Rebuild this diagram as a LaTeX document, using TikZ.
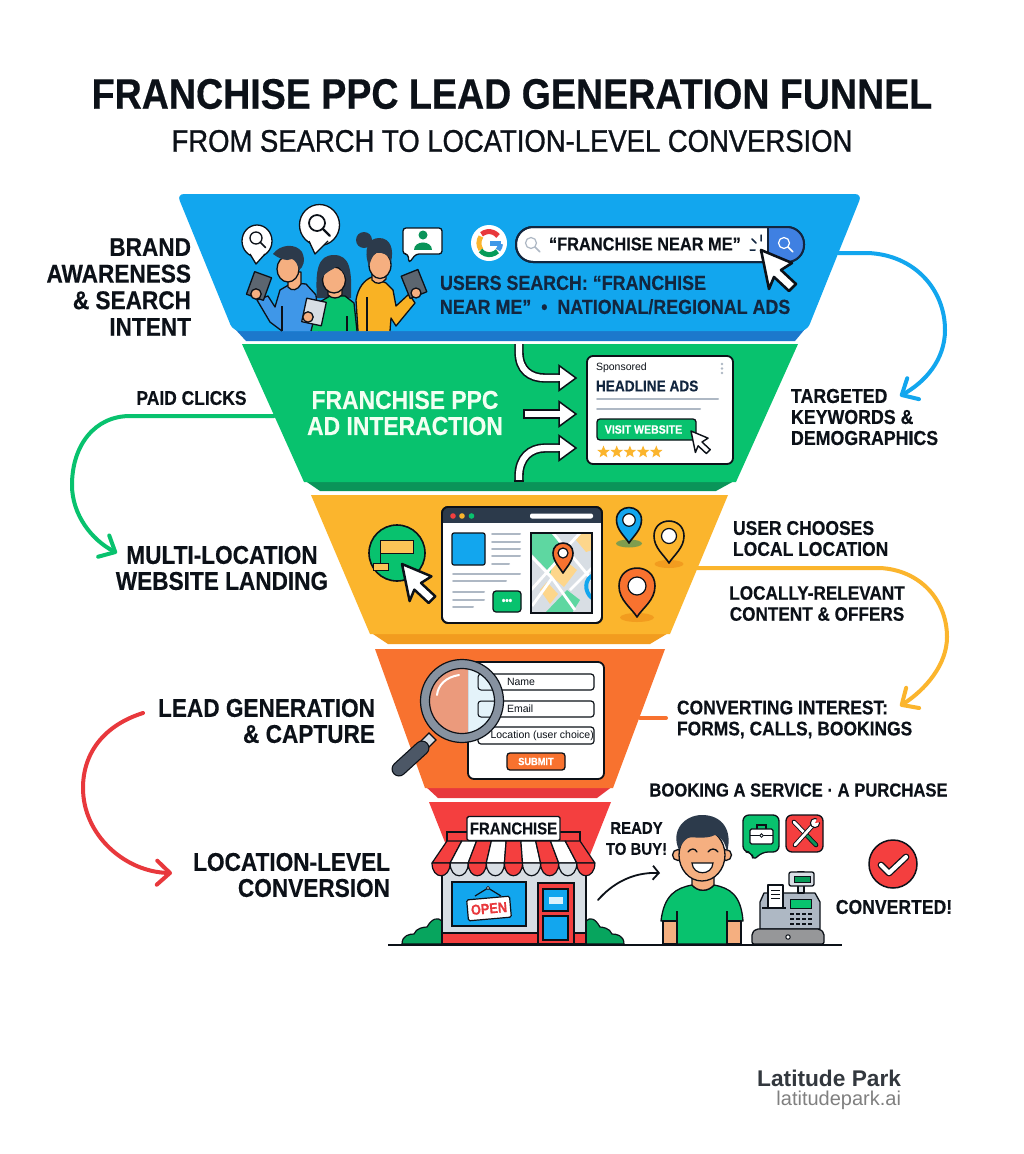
\documentclass[tikz,border=0pt]{standalone}
\usepackage{fontspec}
\setmainfont{Liberation Sans}[FakeStretch=0.88,BoldFeatures={FakeStretch=0.88,FakeBold=0.35}]
\newfontfamily\medfont{Liberation Sans}[FakeStretch=0.88,FakeBold=1.0]
\newfontfamily\footfont{Liberation Sans}
\usetikzlibrary{shapes.geometric,arrows.meta}
\definecolor{ink}{HTML}{0C1118}
\definecolor{navy}{HTML}{12263F}
\definecolor{bluep}{HTML}{12A6EE}
\definecolor{blued}{HTML}{1C78CC}
\definecolor{btnb}{HTML}{3F80E2}
\definecolor{greenp}{HTML}{08C26E}
\definecolor{greend}{HTML}{0A9459}
\definecolor{yellowp}{HTML}{FBB52D}
\definecolor{yellowd}{HTML}{F29C1F}
\definecolor{orangep}{HTML}{F8722F}
\definecolor{redd}{HTML}{E8383C}
\definecolor{redp}{HTML}{F43F3F}
\definecolor{linegray}{HTML}{AEB8C4}
\definecolor{lightg}{HTML}{D8DEE4}
\definecolor{skin}{HTML}{F5AF80}
\definecolor{hair}{HTML}{2C3A4B}
\definecolor{shirtb}{HTML}{3F97E8}
\definecolor{shirty}{HTML}{F9B224}
\definecolor{salmon}{HTML}{EB9A7C}
\definecolor{pale}{HTML}{E2F2FA}
\definecolor{footdark}{HTML}{33383E}
\definecolor{phoned}{HTML}{5C6670}
\newcommand\fsz[2]{\fontsize{#1}{#2}\selectfont\bfseries}
\newcommand\pinmark[7]{% x y r tipy fill outline hole
  \fill[#5] (#1-#3,#2) .. controls (#1-#3,#2+#3*.8) and (#1-#3*.3,#4-#3*.5) .. (#1,#4)
    .. controls (#1+#3*.3,#4-#3*.5) and (#1+#3,#2+#3*.8) .. (#1+#3,#2)
    .. controls (#1+#3,#2-#3*1.33) and (#1-#3,#2-#3*1.33) .. (#1-#3,#2) -- cycle;
  \draw[#6,line width=1.6pt,line join=round] (#1-#3,#2) .. controls (#1-#3,#2+#3*.8) and (#1-#3*.3,#4-#3*.5) .. (#1,#4)
    .. controls (#1+#3*.3,#4-#3*.5) and (#1+#3,#2+#3*.8) .. (#1+#3,#2)
    .. controls (#1+#3,#2-#3*1.33) and (#1-#3,#2-#3*1.33) .. (#1-#3,#2) -- cycle;
  \fill[white,draw=#6,line width=1.2pt] (#1,#2) circle (#3*.5);}
\newcommand\cursorat[3]{% x y scale
  \draw[fill=white,draw=ink,line width=#3*2.6pt,line join=round]
   (#1,#2) -- ++(#3*31,#3*13) -- ++(#3*-11,#3*7) -- ++(#3*15,#3*14) -- ++(#3*-7,#3*7)
   -- ++(#3*-15,#3*-14) -- ++(#3*-5,#3*12) -- cycle;}
\newcommand\glassicon[4]{% x y r colour
  \draw[#4,line width=#3*.22pt] (#1,#2) circle (#3);
  \draw[#4,line width=#3*.28pt,line cap=round] (#1+#3*.72,#2+#3*.72) -- (#1+#3*1.6,#2+#3*1.6);}
\newcommand\whitearrowhead[2]{% tip x y
  \draw[fill=white,draw=ink,line width=1.5pt,line join=miter] (#1,#2) -- ++(-17,-12.5) -- ++(0,25) -- cycle;
  \fill[white] (#1-20,#2-3.1) rectangle (#1-15.5,#2+3.1);}
\tikzset{
  lab/.style={inner sep=0pt,outer sep=0pt,text=ink},
  conn/.style={line width=4pt,line cap=round},
  tip/.style={-{Straight Barb[round,length=13pt,width=24pt,line width=4pt]}},
  wline/.style={line width=9.4pt,draw=ink},
  wfill/.style={line width=6.2pt,draw=white},
  gline/.style={draw=linegray,line width=2pt,line cap=round},
  outl/.style={draw=ink,line width=1.3pt,line join=round},
  field/.style={draw=ink,line width=1.2pt,fill=white,rounded corners=3pt},
}
\begin{document}
\begin{tikzpicture}[x=1pt,y=-1pt]
\useasboundingbox (0,0) rectangle (1024,1154);
\fill[white] (0,0) rectangle (1024,1154);

% ---- titles
\node[lab,font=\fsz{42.7}{43}] (title) at (512,94) {FRANCHISE PPC LEAD GENERATION FUNNEL};
\node[lab,font=\medfont\fontsize{31.2}{31.2}\selectfont] (subtitle) at (512,141) {FROM SEARCH TO LOCATION-LEVEL CONVERSION};

% ---- funnel bands
\fill[blued] (235,329) -- (805,329) -- (795,341) -- (246,341) -- cycle;
\fill[bluep,rounded corners=7pt] (177,194) -- (862,194) -- (807,331) -- (233,331) -- cycle;
\fill[greend] (304,480) -- (736,480) -- (716,491) -- (320,491) -- cycle;
\fill[greenp] (242,344) -- (798,344) -- (736,482) -- (304,482) -- cycle;
\fill[yellowd] (370,632) -- (670,632) -- (650,644) -- (388,644) -- cycle;
\fill[yellowp] (311,495) -- (728,495) -- (670,634) -- (370,634) -- cycle;
\fill[redd] (425,786) -- (613,786) -- (597,798) -- (438,798) -- cycle;
\fill[orangep] (375,649) -- (665,649) -- (613,788) -- (425,788) -- cycle;
\fill[redp] (429,802) -- (611,802) -- (588,860) -- (452,860) -- cycle;

% ---- connectors outside funnel
\coordinate (bs) at (838,253);
\coordinate (be) at (900,396);
\coordinate (gs) at (274,416);
\coordinate (ge) at (117,553);
\coordinate (ys) at (697,568);
\coordinate (ye) at (900,706);
\coordinate (os) at (640,718);
\coordinate (oe) at (666,718);
\coordinate (rs) at (143,713);
\coordinate (re) at (172,873);
\draw[conn,draw=bluep,tip] (bs) -- (868,253) .. controls (915,255) and (945,290) .. (945,330) .. controls (945,360) and (925,382) .. (be);
\draw[conn,draw=greenp,tip] (gs) -- (130,416) .. controls (95,416) and (72,445) .. (72,485) .. controls (72,515) and (92,540) .. (ge);
\draw[conn,draw=yellowp,tip] (ys) -- (880,568) .. controls (920,570) and (947,600) .. (947,637) .. controls (947,665) and (925,690) .. (ye);
\draw[conn,draw=orangep] (os) -- (oe);
\draw[conn,draw=redd,tip] (rs) .. controls (105,725) and (83,752) .. (83,788) .. controls (83,835) and (125,872) .. (re);

% ---- side labels
\node[lab,font=\fsz{25.7}{26.6},align=right,anchor=east] (l1) at (191,287) {BRAND\\AWARENESS\\\& SEARCH\\INTENT};
\node[lab,font=\fsz{19.8}{22}] (l2) at (191.5,398) {PAID CLICKS};
\node[lab,font=\fsz{25.7}{26},align=center] (l3) at (222,568) {MULTI-LOCATION\\WEBSITE LANDING};
\node[lab,font=\fsz{25.7}{26},align=right,anchor=east] (l4) at (375,721) {LEAD GENERATION\\\& CAPTURE};
\node[lab,font=\fsz{25.7}{26},align=right,anchor=east] (l5) at (390,875) {LOCATION-LEVEL\\CONVERSION};
\node[lab,font=\fsz{20.2}{21},align=left,anchor=west] (r1) at (791,417) {TARGETED\\KEYWORDS \&\\DEMOGRAPHICS};
\node[lab,font=\fsz{19.9}{21},align=left,anchor=west] (r2) at (733,538.5) {USER CHOOSES\\LOCAL LOCATION};
\node[lab,font=\fsz{19.5}{21},align=center] (r3) at (817,603.5) {LOCALLY-RELEVANT\\CONTENT \& OFFERS};
\node[lab,font=\fsz{19.8}{21},align=left,anchor=west] (r4) at (677,719.5) {CONVERTING INTEREST:\\FORMS, CALLS, BOOKINGS};
\node[lab,font=\fsz{18.9}{22}] (r5) at (798.5,790) {BOOKING A SERVICE · A PURCHASE};
\node[lab,font=\fsz{17}{21},align=center] (r6) at (636.5,838.5) {READY\\TO BUY!};
\node[lab,font=\fsz{20}{22}] (r7) at (894,907) {CONVERTED!};

% ---- footer
\node[lab,anchor=east,font=\footfont\fontsize{22.7}{23}\selectfont\bfseries,text=footdark] (f1) at (901,1078) {Latitude Park};
\node[lab,anchor=east,font=\footfont\fontsize{20}{20}\selectfont,text=gray] (f2) at (901,1100) {latitudepark.ai};

% ---- BLUE BAND: people
% person 1
\draw[outl,fill=shirtb] (282,331) -- (270,322) -- (257,300) -- (268,296) -- (275,307) -- (280,290) -- (292,283) -- (306,284) -- (316,295) -- (319,331);
\draw[outl] (282,331) -- (282,306);
\draw[outl,fill=skin] (288,272) -- (288,287) .. controls (292,292) and (298,290) .. (301,284) -- (301,272) -- cycle;
\draw[outl,fill=skin] (288,269) ellipse (11 and 13);
\fill[hair] (273,254) .. controls (280,244) and (296,243) .. (302,252) .. controls (306,260) and (303,268) .. (299,270) .. controls (298,264) and (295,260) .. (292,259) .. controls (286,262) and (278,258) .. (273,254) -- cycle;
\draw[outl,fill=phoned,rotate around={-20:(259,286)}] (250,274) rectangle (268,298);
\draw[outl,fill=skin] (256,294) circle (5.2);
% person 2
\fill[hair] (317,298) .. controls (315,270) and (318,255) .. (334,255) .. controls (350,255) and (352,270) .. (351,298) -- cycle;
\draw[outl,fill=greenp] (311,331) -- (318,303) -- (330,296) -- (345,296) -- (354,303) -- (357,331);
\draw[outl] (347,331) -- (347,316);
\draw[outl,fill=skin] (328,285) -- (328,295) .. controls (332,299) and (338,299) .. (342,295) -- (342,285) -- cycle;
\draw[outl,fill=skin] (334,280) ellipse (11.5 and 13);
\fill[hair] (322,278) .. controls (325,272) and (332,270) .. (338,266) .. controls (342,270) and (345,274) .. (346,278) .. controls (347,268) and (342,260) .. (334,260) .. controls (326,260) and (321,268) .. (322,278) -- cycle;
\draw[outl,fill=lightg,rotate around={-12:(314,312)}] (304,300) rectangle (324,324);
\draw[outl,fill=skin] (308,317) circle (5.2);
% person 3
\draw[outl,fill=shirty] (358,331) -- (356,300) .. controls (358,288) and (364,280) .. (372,277) -- (386,283) -- (393,290) -- (396,306) -- (409,294) -- (415,303) -- (396,326) -- (391,318) -- (390,331);
\draw[outl] (367,331) -- (367,297);
\draw[outl,fill=skin] (372,268) -- (372,280) .. controls (376,285) and (382,284) .. (386,279) -- (386,268) -- cycle;
\draw[outl,fill=skin] (380,265) ellipse (11 and 13.5);
\fill[hair] (364,240) circle (8);
\fill[hair] (369,266) .. controls (363,250) and (368,238) .. (379,238) .. controls (391,238) and (394,250) .. (391,262) .. controls (389,255) and (384,252) .. (376,253) .. controls (372,256) and (371,260) .. (369,266) -- cycle;
\draw[outl,fill=phoned,rotate around={22:(414,284)}] (405,272) rectangle (423,296);
\draw[outl,fill=skin] (416,293) circle (5);
% bubbles
\draw[outl,fill=white] (257,241) ellipse (15 and 16);
\draw[outl,fill=white] (250,254) -- (256,264) -- (265,254);
\fill[white] (251,252) -- (264,252) -- (256.5,261) -- cycle;
\glassicon{256}{238}{6}{ink}
\draw[outl,fill=white] (319.5,225) ellipse (20 and 20.5);
\draw[outl,fill=white] (309,241) -- (315,254) -- (328,241);
\fill[white] (310,239) -- (327,239) -- (315.5,250.5) -- cycle;
\glassicon{317}{223}{8}{ink}
\draw[outl,fill=white,rounded corners=3pt] (403,228) -- (442,228) -- (442,254) -- (416,254) -- (409,263) -- (408,254) -- (403,254) -- cycle;
\fill[greend] (423,235) circle (4.5);
\fill[greend] (414,250) .. controls (414,240) and (432,240) .. (432,250) -- cycle;

% search bar
\fill[white] (489,243) circle (18);
\draw[line width=5pt,draw=redd] (498,236) arc (-38:-130:11.5);
\draw[line width=5pt,draw=yellowp] (481,236.5) arc (-145:-215:11.5);
\draw[line width=5pt,draw=greenp!80!black] (480.5,250.5) arc (140:45:11.5);
\draw[line width=5pt,draw=shirtb] (498,250) arc (40:5:11);
\draw[line width=5pt,draw=shirtb] (490,243) -- (500.5,243);
\draw[draw=navy,line width=2pt,fill=white,rounded corners=17pt] (516,227) rectangle (804,262);
\begin{scope}
\clip[rounded corners=17pt] (516,227) rectangle (804,262);
\fill[btnb] (768,227) rectangle (804,262);
\draw[draw=navy,line width=2pt] (768,227) -- (768,262);
\end{scope}
\draw[draw=navy,line width=2pt,rounded corners=17pt] (516,227) rectangle (804,262);
\glassicon{531}{243}{5.5}{linegray}
\glassicon{784}{243}{5.5}{white}
\node[lab,font=\fsz{18.6}{19},anchor=west] (q) at (549,244) {“FRANCHISE NEAR ME”};
\draw[navy,line width=1.5pt,line cap=round] (752,239) -- (756,243) (761,235) -- (761,241) (750,250) -- (755,250);
\cursorat{761}{250}{1}
\node[lab,font=\fsz{20.3}{24},align=left,anchor=west,text=navy] (u) at (440,295) {USERS SEARCH: “FRANCHISE\\NEAR ME”\ \ •\ \ NATIONAL/REGIONAL ADS};

% ---- GREEN BAND
\node[lab,font=\fsz{26}{26},align=center,text=white!95!green] (g) at (405,413) {FRANCHISE PPC\\AD INTERACTION};
\coordinate (a1s) at (519,344);
\coordinate (a1e) at (563,378);
\coordinate (a2s) at (523,414);
\coordinate (a2e) at (563,414);
\coordinate (a3s) at (519,481);
\coordinate (a3e) at (563,448);
\draw[wline] (a1s) -- (519,352) .. controls (519,370) and (530,378) .. (545,378) -- (a1e);
\draw[wline] (a2s) -- (a2e);
\draw[wline] (a3s) -- (519,476) .. controls (519,458) and (530,448) .. (545,448) -- (a3e);
\draw[wfill] (a1s) -- (519,352) .. controls (519,370) and (530,378) .. (545,378) -- (a1e);
\draw[wfill,shorten <=1.5pt] (a2s) -- (a2e);
\draw[wfill] (a3s) -- (519,476) .. controls (519,458) and (530,448) .. (545,448) -- (a3e);
\draw[ink,line width=1.3pt] (514.3,481) -- (523.7,481);
\whitearrowhead{576}{378}
\whitearrowhead{576}{414}
\whitearrowhead{576}{448}
\fill[white,draw=ink,line width=1.8pt,rounded corners=6pt] (587,356) rectangle (733,464);
\node[lab,anchor=west,font=\footfont\fontsize{10.5}{11}\selectfont,text=ink] (sp) at (596,368) {Sponsored};
\fill[linegray] (722,364) circle (1.3) (722,368.5) circle (1.3) (722,373) circle (1.3);
\node[lab,anchor=west,font=\fsz{15.5}{16},text=navy] (ha) at (596,386) {HEADLINE ADS};
\draw[gline] (597,399) -- (718,399);
\draw[gline] (597,409) -- (700,409);
\node[draw=ink,line width=1.3pt,fill=greenp,rounded corners=3pt,minimum width=99pt,minimum height=21pt,inner sep=0pt,text=white,font=\fsz{12}{12}] (vw) at (646.5,429.5) {\hspace*{-6pt}VISIT WEBSITE};
\foreach \i in {0,...,4}{
  \node[star,star points=5,star point ratio=2.3,fill=yellowp,inner sep=0pt,minimum size=13pt] (st\i) at (603.5+\i*13.2,452) {};
}
\cursorat{691}{431}{.55}

% ---- YELLOW BAND
\fill[greenp,draw=ink,line width=1.6pt] (397,553) circle (28);
\fill[yellowp!80!white,draw=ink,line width=1pt] (380,540) rectangle (413,553);
\fill[yellowp!80!white,draw=ink,line width=1pt] (373,563) rectangle (388,570);
\draw[ink,line width=1pt] (380,553) -- (380,563);
\cursorat{402}{564}{.95}
\fill[white,draw=ink,line width=1.8pt,rounded corners=6pt] (442,507) rectangle (602,623);
\begin{scope}
\clip[rounded corners=6pt] (442,507) rectangle (602,623);
\fill[hair] (442,507) rectangle (602,523);
\end{scope}
\draw[ink,line width=1.8pt,rounded corners=6pt] (442,507) rectangle (602,623);
\fill[redp] (453,516) circle (2.8);
\fill[yellowp] (462,516) circle (2.8);
\fill[greenp] (471.5,516) circle (2.8);
\fill[white,rounded corners=2pt] (530,513.5) rectangle (593,518.5);
\fill[bluep,draw=ink,line width=1.2pt,rounded corners=2pt] (452,533) rectangle (485,565);
\foreach \yy in {534,541.5,549,556}{ \draw[gline] (492,\yy) -- (520,\yy); }
\draw[gline] (492,563.5) -- (509,563.5);
\draw[gline] (453,574) -- (520,574);
\draw[gline] (453,581) -- (506,581);
\draw[gline] (453,592) -- (484,592);
\draw[gline] (453,599.5) -- (484,599.5);
\draw[gline] (453,607) -- (473,607);
\node[draw=ink,line width=1.2pt,fill=greenp,rounded corners=3pt,minimum width=28pt,minimum height=21pt,inner sep=0pt,text=white,font=\fsz{11}{11}] (dots) at (507,601.5) {•••};
\begin{scope}
\clip (531,533) rectangle (592,613);
\fill[lightg] (531,533) rectangle (592,613);
\fill[greenp!65!white] (531,533) -- (553,533) -- (570,553) -- (552,575) -- (531,553) -- cycle;
\fill[greenp!65!white] (545,613) -- (567,590) -- (580,600) -- (572,613) -- cycle;
\fill[yellowp!55!white] (553,565) -- (562,558) -- (577,570) -- (564,587) -- (550,575) -- cycle;
\fill[yellowp!55!white] (540,590) -- (547,582) -- (558,594) -- (550,604) -- cycle;
\fill[yellowp!55!white] (581,533) -- (592,533) -- (592,550) -- (586,552) -- (576,540) -- cycle;
\draw[white,line width=2.8pt] (531,556) -- (552,578) -- (575,610) (531,590) -- (558,560) (552,578) -- (532,606) (553,533) -- (592,580) (580,533) -- (555,560) (570,590) -- (592,568);
\draw[bluep,line width=4pt] (594,575) .. controls (584,578) and (584,592) .. (592,598);
\end{scope}
\draw[ink,line width=1.2pt] (531,533) rectangle (592,613);
\pinmark{563}{553}{10}{573}{orangep}{ink}{white}
\fill[greend!70!gray,opacity=.6] (629,543.5) ellipse (13 and 4);
\pinmark{629}{520}{12.5}{543}{bluep}{ink}{white}
\fill[yellowd] (669,564) ellipse (14.5 and 4);
\pinmark{669}{536}{15}{563}{yellowp}{ink}{white}
\fill[yellowd] (637,617.5) ellipse (17 and 4.5);
\pinmark{637}{586}{18}{617}{orangep}{ink}{white}

% ---- ORANGE BAND
\fill[white,draw=ink,line width=1.8pt,rounded corners=6pt] (468,662) rectangle (604,779);
\draw[field] (478,674) rectangle (594,690);
\draw[field] (478,701) rectangle (594,717);
\draw[field] (478,727) rectangle (594,744);
\node[lab,anchor=west,font=\footfont\fontsize{10.5}{11}\selectfont] (n1) at (507,682) {Name};
\node[lab,anchor=west,font=\footfont\fontsize{10.5}{11}\selectfont] (n2) at (507,708.5) {Email};
\node[lab,anchor=west,font=\footfont\fontsize{10.5}{11}\selectfont] (n3) at (490.5,736) {Location (user choice)};
\node[draw=ink,line width=1.3pt,fill=orangep,rounded corners=3pt,minimum width=58pt,minimum height=17pt,inner sep=0pt,text=white,font=\fsz{10.5}{11}] (sb) at (536,761.5) {SUBMIT};
\begin{scope}
\clip (462,701) circle (33);
\fill[salmon] (425,665) rectangle (468,740);
\fill[pale,opacity=.9] (468,665) rectangle (500,740);
\draw[ink,line width=1pt,rounded corners=3pt] (478,674) rectangle (594,690) (478,701) rectangle (594,717);
\end{scope}
\draw[draw=linegray!70!hair,line width=8.5pt] (462,701) circle (37);
\draw[ink,line width=1.2pt] (462,701) circle (41.5) (462,701) circle (32.5);
\draw[draw=white,line width=2pt,line cap=round] (437,695) .. controls (438,685) and (446,677) .. (459,675);
\draw[fill=lightg,draw=ink,line width=1.2pt] (429,733) -- (436,740) -- (425,751) -- (418,744) -- cycle;
\draw[ink,line width=15pt,line cap=round] (422,748) -- (399,769);
\draw[hair!85!white,line width=12.5pt,line cap=round] (422,748) -- (399,769);

% ---- RED BAND: store
\fill[greenp!85!black,draw=ink,line width=1.2pt] (402,944) .. controls (402,935) and (410,934) .. (414,934) .. controls (416,928) and (424,927) .. (427,927) .. controls (432,918) and (438,917) .. (442,921) -- (442,944) -- cycle;
\fill[greenp!85!black,draw=ink,line width=1.2pt] (624,944) .. controls (624,935) and (616,934) .. (612,934) .. controls (610,928) and (602,927) .. (600,927) .. controls (595,918) and (590,917) .. (586,921) -- (586,944) -- cycle;
\fill[lightg,draw=ink,line width=1.4pt] (442,868) rectangle (586,944);
\fill[redp,draw=ink,line width=1.2pt] (442,933) rectangle (586,944);
\fill[bluep,draw=ink,line width=1.5pt] (452,882) rectangle (526,926);
\fill[redp,draw=ink,line width=1.4pt] (538,883) rectangle (574,944);
\fill[bluep,draw=ink,line width=1.4pt] (543,889) rectangle (568,911);
\fill[bluep,draw=ink,line width=1.4pt] (543,916) rectangle (568,940);
\fill[white!85!bluep] (549,897) rectangle (563,904);
\draw[ink,line width=1.2pt] (475,896) -- (488,888) -- (501,896);
\fill[white,draw=ink,line width=.8pt] (488,888) circle (1.6);
\node[draw=ink,line width=1.2pt,fill=white,rounded corners=1.5pt,text=redd,font=\fsz{14.5}{15},minimum width=43pt,minimum height=21pt,inner sep=0pt,rotate=5] (open) at (489,908.5) {OPEN};
% awning
\fill[redp,draw=ink,line width=1.2pt] (447,832) rectangle (580,842);
\foreach \i/\c/\d in {0/redp/redp,1/white/lightg,2/redp/redp,3/white/lightg,4/redp/redp,5/white/lightg,6/redp/redp,7/white/lightg,8/redp/redp}{
  \pgfmathsetmacro\tl{447+\i*14.78}
  \pgfmathsetmacro\tr{447+(\i+1)*14.78}
  \pgfmathsetmacro\bl{432+\i*18.1}
  \pgfmathsetmacro\br{432+(\i+1)*18.1}
  \draw[fill=\c,draw=ink,line width=1.2pt,line join=round] (\tl,841) -- (\tr,841) -- (\br,863) -- (\bl,863) -- cycle;
  \draw[fill=\d,draw=ink,line width=1.2pt,line join=round] (\bl,863) -- (\br,863) .. controls (\br,880) and (\bl,880) .. (\bl,863) -- cycle;
}
\node[draw=ink,line width=1.4pt,fill=white,rounded corners=1.5pt,text=ink,font=\fsz{17}{17},minimum width=93pt,minimum height=24pt,inner sep=0pt] (fr) at (513.5,828.5) {FRANCHISE};
% arrow to person
\coordinate (ra) at (598,900);
\coordinate (rb) at (660,873);
\draw[ink,line width=1.8pt,line cap=round,-{Straight Barb[length=6pt,width=14pt,line width=1.8pt]}] (ra) .. controls (612,884) and (632,872) .. (rb);
% baseline
\coordinate (bl1) at (388,945);
\coordinate (bl2) at (842,945);
% person
\draw[outl,fill=greenp] (661,921) .. controls (664,895) and (676,888) .. (692,885) .. controls (698,892) and (708,892) .. (714,885) .. controls (730,888) and (741,895) .. (743,921) -- (727,921) -- (727,944) -- (677,944) -- (677,921) -- cycle;
\draw[outl,fill=skin] (663,921) rectangle (677,944);
\draw[outl,fill=skin] (727,921) rectangle (741,944);
\draw[outl] (677,921) -- (677,911) (727,921) -- (727,911);
\draw[outl,fill=skin] (692,876) -- (692,885) .. controls (698,892) and (708,892) .. (714,885) -- (714,876) -- cycle;
\draw[outl,fill=skin] (678,855) circle (5.5);
\draw[outl,fill=skin] (726,855) circle (5.5);
\draw[outl,fill=skin] (702,855) ellipse (23 and 26);
\fill[hair] (679,850) .. controls (670,830) and (685,815) .. (702,815) .. controls (722,815) and (733,830) .. (727,852) .. controls (725,842) and (722,838) .. (715,835) .. controls (705,840) and (692,836) .. (688,838) .. controls (684,840) and (681,845) .. (679,850) -- cycle;
\draw[ink,line width=1.3pt,line cap=round] (688,852) .. controls (691,848) and (695,848) .. (697,852);
\draw[ink,line width=1.3pt,line cap=round] (708,852) .. controls (711,848) and (715,848) .. (718,852);
\fill[white,draw=ink,line width=1.2pt] (692,863) -- (713,863) .. controls (712,876) and (693,876) .. (692,863) -- cycle;
% icons
\draw[outl,fill=greenp,rounded corners=6pt] (743,815) -- (779,815) -- (779,852) -- (762,852) -- (753,861) -- (752,852) -- (743,852) -- cycle;
\draw[ink,line width=1.1pt,fill=white,rounded corners=1.5pt] (750,829) rectangle (773,844);
\draw[ink,line width=1.1pt] (757,829) -- (757,825) -- (766,825) -- (766,829) (750,835.5) -- (773,835.5);
\fill[white,draw=ink,line width=.8pt] (761.5,835.5) circle (1.8);
\draw[outl,fill=redp,rounded corners=6pt] (786,815) rectangle (823,852);
\draw[ink,line width=4.6pt,line cap=round] (794,822) -- (816,845);
\draw[white,line width=2.8pt,line cap=round] (794,822) -- (805,833.5);
\draw[greend,line width=2.8pt,line cap=round] (805,833.5) -- (816,845);
\draw[ink,line width=4.6pt,line cap=round] (795,845) -- (814,824);
\draw[white,line width=2.8pt,line cap=round] (795,845) -- (814,824);
\draw[white,draw=ink,fill=white,line width=1pt] (815,823) circle (4.6);
\fill[redp] (815,823) -- (818,817) -- (822,822) -- cycle;
\fill[redp,draw=ink,line width=1.5pt] (893,864) circle (24);
\draw[ink,line width=6.8pt,line cap=round,line join=round] (881,865) -- (889,873) -- (906,857);
\draw[white,line width=4.2pt,line cap=round,line join=round] (881,865) -- (889,873) -- (906,857);
% cash register
\draw[outl,fill=linegray] (760,929) -- (760,902) -- (764,893) -- (815,893) -- (820,902) -- (820,929) -- cycle;
\draw[outl,fill=lightg] (798,872) rectangle (804,893);
\draw[outl,fill=lightg,rounded corners=2pt] (789,872) rectangle (814,886) ;
\fill[greenp!80!black,draw=ink,line width=.8pt] (794,876) rectangle (810,882);
\draw[outl,fill=white] (768,885) rectangle (783,908);
\draw[ink,line width=.9pt] (771,890) -- (780,890) (771,894) -- (780,894) (771,898) -- (780,898);
\draw[ink,line width=1.2pt] (762,908) -- (786,908);
\fill[greenp,draw=ink,line width=.9pt] (790,899) rectangle (811,908);
\foreach \yy in {914,919,924}{ \draw[ink,line width=1.3pt,dash pattern=on 4pt off 2pt] (790,\yy) -- (813,\yy); }
\draw[outl,fill=gray!75!lightg,rounded corners=2pt] (752,944) -- (752,933) -- (756,929) -- (820,929) -- (824,933) -- (824,944) -- cycle;
\fill[white,draw=ink,line width=1pt] (788,937) circle (2.2);
\draw[ink,line width=1.8pt] (bl1) -- (bl2);
\end{tikzpicture}
\end{document}
